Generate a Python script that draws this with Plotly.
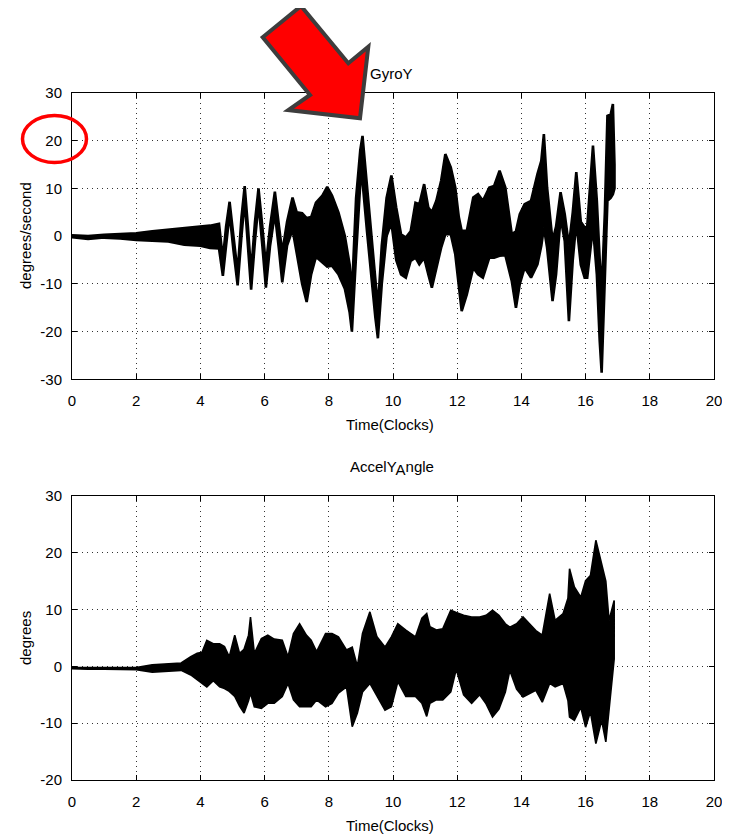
import plotly.graph_objects as go

# ---------------- data ----------------
# GyroY: time (s) with upper / lower envelope of the dense trace (degrees/second)
gyro_t = [0.0, 0.5, 1.0, 1.5, 2.0, 2.5, 3.0, 3.5, 4.0, 4.3,
          4.58, 4.7, 4.8, 4.91, 5.03, 5.16, 5.28, 5.38, 5.48, 5.58,
          5.7, 5.81, 5.93, 6.04, 6.17, 6.32, 6.45, 6.55, 6.7, 6.87,
          7.0, 7.17, 7.31, 7.45, 7.6, 7.8, 7.95, 8.1, 8.3, 8.5,
          8.65, 8.72, 8.85, 8.98, 9.05, 9.19, 9.34, 9.45, 9.53, 9.65,
          9.8, 9.95, 10.1, 10.25, 10.4, 10.55, 10.7, 10.82, 10.97, 11.1,
          11.21, 11.35, 11.5, 11.63, 11.8, 11.94, 12.05, 12.14, 12.3, 12.5,
          12.65, 12.8, 13.0, 13.15, 13.32, 13.5, 13.7, 13.83, 13.95, 14.1,
          14.3, 14.5, 14.62, 14.7, 14.8, 14.97, 15.08, 15.22, 15.35, 15.48,
          15.6, 15.71, 15.85, 15.97, 16.05, 16.23, 16.35, 16.44, 16.5, 16.6,
          16.68, 16.78, 16.85, 16.9]
gyro_upper = [0.2, 0.0, 0.3, 0.4, 0.6, 1.0, 1.3, 1.6, 2.0, 2.2,
              2.6, -4.8, 2, 7.2, 0, -7.6, 4, 10.5, 2, -7.6,
              3, 10.0, 2, -6.2, 2, 9.3, 2, -3.4, 3, 8.1,
              5, 4.8, 3.8, 4, 7, 8.5, 10.3, 8.5, 5, 0,
              -6, -12, 8, 18, 21, 10.3, 0, -10, -15, -2,
              8, 12.7, 6, 0.4, -0.3, 1, 7, 6.7, 10.9, 6,
              5, 7.4, 11.6, 17.2, 14.4, 10.2, 4, 1.1, 1.1, 8.1,
              8.8, 7.4, 10.2, 10.5, 13.7, 10.2, 0.4, 1, 4.6, 6.7,
              7.4, 13, 15.8, 21.4, 10.2, -1, 2, 9.2, 4.6, -2,
              5, 13.4, 3, 1.8, 2, 19, 7.4, -5, -12, 5,
              25.2, 25.5, 27.7, 15]
gyro_lower = [-0.2, -0.6, -0.3, -0.5, -0.8, -1.0, -1.1, -1.8, -2.0, -2.5,
              -2.6, -8.3, -2, 4.8, -3, -10.3, 0, 7.6, -2, -11.2,
              -1, 6.9, -2, -10.8, -2, 4.8, -3, -9.7, -2, 1.4,
              -4, -10, -13.8, -8, -4.3, -5.5, -6.4, -6.2, -8, -11,
              -16, -20, -4, 11, 11.4, 1, -10, -17, -21.4, -10,
              0, 2.8, -5, -8, -8.7, -5.2, -4.5, -5.9, -4.5, -8,
              -10.8, -6.6, -2.4, 0.4, 0.4, -3.8, -10, -15.7, -12.2, -6.6,
              -8, -8.7, -4.5, -4.5, -4.1, -4, -9.4, -15, -10, -6.6,
              -8.7, -5.9, -2, 1.8, -2.4, -13.6, -8, 3.9, -1, -17.8,
              -5, 3, -6, -8.7, -8.7, 2, -8, -22, -28.6, -10,
              7.4, 8, 8.8, 10]

# AccelY_Angle: time (s) with upper / lower envelope (degrees)
acc_t = [0, 0.5, 1, 1.5, 2, 2.5, 3, 3.4, 3.7, 3.9,
         4.05, 4.2, 4.4, 4.6, 4.75, 4.9, 5.07, 5.22, 5.36, 5.5,
         5.56, 5.68, 5.9, 6.1, 6.3, 6.55, 6.73, 6.9, 7.09, 7.3,
         7.45, 7.62, 7.9, 8.1, 8.3, 8.55, 8.73, 8.89, 9.05, 9.28,
         9.5, 9.75, 9.95, 10.15, 10.4, 10.7, 10.9, 11.05, 11.15, 11.35,
         11.55, 11.8, 11.97, 12.2, 12.45, 12.7, 12.9, 13.1, 13.3, 13.5,
         13.64, 13.85, 14.05, 14.25, 14.45, 14.65, 14.88, 15.05, 15.3, 15.45,
         15.5, 15.65, 15.85, 16.0, 16.15, 16.32, 16.5, 16.63, 16.73, 16.89]
acc_upper = [-0.2, -0.2, -0.2, -0.3, -0.2, 0.3, 0.5, 0.6, 1.7, 2.3,
             2.5, 4.6, 4.0, 4.0, 3.5, 1.7, 5.5, 2.3, 3, 5.5,
             8.7, 2.3, 4.9, 5.5, 4.8, 4.6, 1.7, 5.8, 7.5, 5.5,
             4.6, 2.6, 5.8, 5.8, 5.2, 2.9, 3.4, 0, 5.8, 9.6,
             5.2, 3.4, 5.2, 7.5, 6.4, 5.2, 8.5, 9.3, 7, 6.4,
             6.6, 9.9, 9.5, 9, 8.7, 8.7, 9.0, 9.9, 9.0, 7.5,
             6.9, 7.5, 8.7, 7.5, 6.3, 5.5, 12.8, 8.1, 9.3, 12,
             17.2, 14, 12.2, 15.1, 16, 22.2, 18, 15, 8.1, 11.6]
acc_lower = [-0.4, -0.5, -0.5, -0.5, -0.6, -1.0, -0.8, -0.7, -1.5, -2.4,
             -3.0, -3.6, -2.5, -3.6, -3.9, -4.4, -5.3, -7, -8.2, -6,
             -4.7, -7.1, -7.4, -6.5, -6.5, -5.3, -3, -5.9, -7.1, -7.1,
             -7.1, -5.9, -7.1, -6.5, -4.7, -3.6, -10.6, -8.2, -4.5, -3.0,
             -5.3, -7.7, -7.1, -2.7, -5.3, -5.3, -6.5, -8.8, -6.5, -5.9,
             -5.9, -4.5, -0.5, -5, -6.5, -5, -6.6, -8.9, -7.5, -4.5,
             -0.7, -4, -5.4, -4.8, -4.2, -6.3, -3, -3.6, -3.0, -6,
             -8.9, -9.5, -7.2, -10.7, -8, -13.6, -9.5, -13.3, -7.7, 1.3]

x_ticks = [0, 2, 4, 6, 8, 10, 12, 14, 16, 18, 20]
gyro_yticks = [-30, -20, -10, 0, 10, 20, 30]
acc_yticks = [-20, -10, 0, 10, 20, 30]

# ---------------- layout geometry ----------------
# The page body adds an 8px offset; target positions below are given in
# screenshot pixels and converted to figure paper coordinates.
W, H = 730, 835
OFF = 8
ML = 72 - OFF          # plot left edge (x=0) at screenshot px 72
MR = W - (714 - OFF)   # plot right edge (x=20) at screenshot px 714
MT = 93 - OFF          # top plot top at screenshot px 93
MB = H - (780 - OFF)   # bottom plot bottom at screenshot px 780
PW, PH = W - ML - MR, H - MT - MB


def px(x):
    return (x - OFF - ML) / PW


def py(y):
    return (H - MB - (y - OFF)) / PH


FONT = "Liberation Sans, Arial, Helvetica, sans-serif"

fig = go.Figure()


def band(t, up, lo, xa, ya, lw):
    xs = list(t) + list(t)[::-1]
    ys = list(up) + list(lo)[::-1]
    fig.add_trace(go.Scatter(x=xs, y=ys, mode="lines", fill="toself",
                             fillcolor="black", line=dict(color="black", width=lw),
                             xaxis=xa, yaxis=ya, showlegend=False, hoverinfo="skip"))


band(gyro_t, gyro_upper, gyro_lower, "x", "y", 2.6)
band(acc_t, acc_upper, acc_lower, "x2", "y2", 1.6)

axis_common = dict(showline=True, linecolor="black", linewidth=1, mirror="ticks",
                   ticks="inside", ticklen=5, tickcolor="black",
                   showgrid=True, gridcolor="#333333", gridwidth=1, griddash="1px,4px",
                   zeroline=False, tickfont=dict(family=FONT, size=15, color="black"))

top_dom = [py(379.3), 1.0]
bot_dom = [0.0, py(496)]

fig.update_layout(
    width=W, height=H, margin=dict(l=ML, r=MR, t=MT, b=MB),
    paper_bgcolor="white", plot_bgcolor="white", showlegend=False,
    xaxis=dict(domain=[0, 1], range=[0, 20], tickvals=x_ticks,
               ticktext=[str(v) for v in x_ticks], anchor="y",
               ticklabelstandoff=8, **axis_common),
    yaxis=dict(domain=top_dom, range=[-30, 30], tickvals=gyro_yticks,
               ticktext=[str(v) for v in gyro_yticks], anchor="x",
               ticklabelstandoff=6, **axis_common),
    xaxis2=dict(domain=[0, 1], range=[0, 20], tickvals=x_ticks,
                ticktext=[str(v) for v in x_ticks], anchor="y2",
                ticklabelstandoff=8, **axis_common),
    yaxis2=dict(domain=bot_dom, range=[-20, 30], tickvals=acc_yticks,
                ticktext=[str(v) for v in acc_yticks], anchor="x2",
                ticklabelstandoff=6, **axis_common),
)

lab_font = dict(family=FONT, size=15, color="black")
annots = [
    dict(text="GyroY", x=px(391), y=py(73)),
    dict(text="AccelY<sub><span style='font-size:15px'>A</span></sub>ngle", x=px(392), y=py(468)),
    dict(text="Time(Clocks)", x=px(390), y=py(424)),
    dict(text="Time(Clocks)", x=px(390), y=py(825)),
    dict(text="degrees/second", x=px(25), y=py(236), textangle=-90),
    dict(text="degrees", x=px(25), y=py(638), textangle=-90),
]
for a in annots:
    fig.add_annotation(xref="paper", yref="paper", showarrow=False,
                       xanchor="center", yanchor="middle", font=lab_font, **a)

# red callout arrow (decoration, screenshot pixel positions)
arrow_px = [(262.7, 37.3), (301, 6), (348.3, 63.3), (368.3, 46.7),
            (360, 118.3), (288.3, 110), (310, 95)]
path = "M " + " L ".join(f"{px(a):.5f},{py(b):.5f}" for a, b in arrow_px) + " Z"
fig.add_shape(type="path", path=path, xref="paper", yref="paper",
              fillcolor="#ff0000", line=dict(color="#3d3d3d", width=4), layer="above")

# red ellipse around the "20" tick label
fig.add_shape(type="circle", xref="paper", yref="paper",
              x0=px(22.5), x1=px(86.5), y0=py(162.5), y1=py(115.5),
              line=dict(color="#ff0000", width=3.5), layer="above")

fig.write_html("out.html")
